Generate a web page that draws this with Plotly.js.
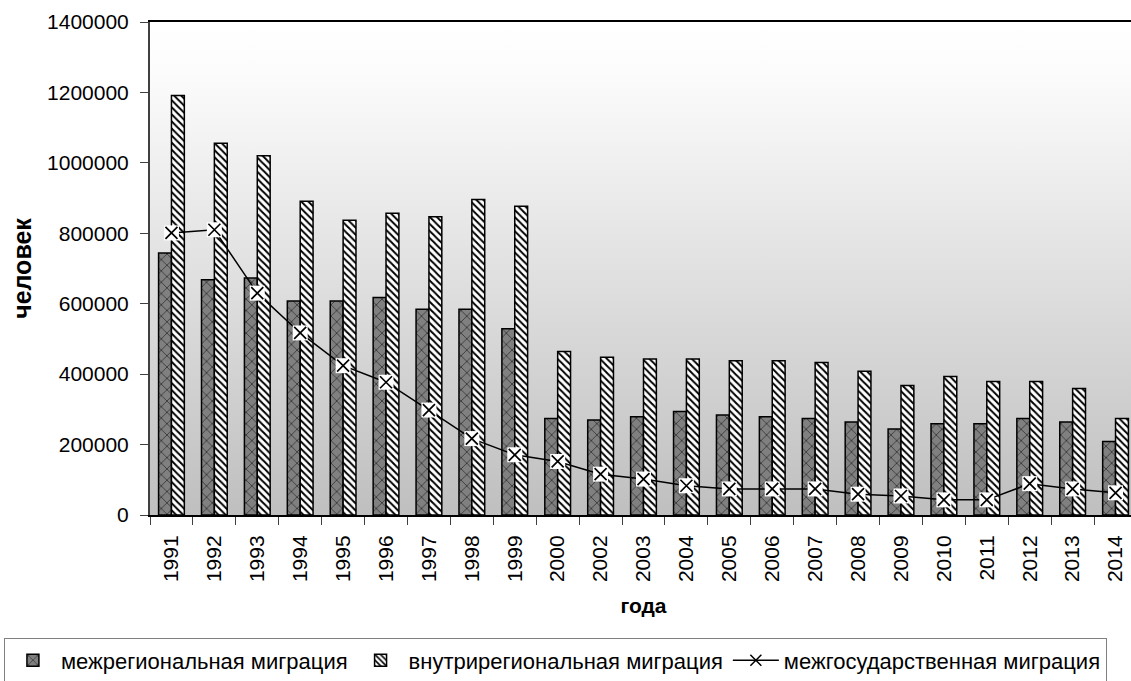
<!DOCTYPE html>
<html>
<head>
<meta charset="utf-8">
<script src="https://cdn.plot.ly/plotly-3.0.1.min.js"></script>
<style>
html, body { margin: 0; padding: 0; overflow: hidden; background: #ffffff; }
#chart { width: 1140px; height: 700px; }
</style>
</head>
<body>
<div id="chart"></div>
<script>
const years = ["1991","1992","1993","1994","1995","1996","1997","1998","1999","2000","2002","2003","2004","2005","2006","2007","2008","2009","2010","2011","2012","2013","2014"];
const interregional = [744000,668000,673000,608000,608000,618000,584000,584000,529000,274000,270000,279000,294000,284000,279000,274000,264000,244000,259000,259000,274000,264000,209000];
const intraregional = [1191000,1056000,1020000,891000,837000,857000,847000,896000,877000,464000,448000,443000,443000,438000,438000,433000,408000,368000,393000,379000,379000,359000,274000];
const interstate = [801000,810000,630000,517000,424000,377000,298000,217000,171000,152000,116000,102000,83000,74000,74000,74000,59000,54000,43000,43000,89000,74000,63000];

const seriesNames = ["межрегиональная миграция", "внутрирегиональная миграция", "межгосударственная миграция"];
const xTitle = "года";
const yTitle = "человек";

const gradSvg = '<svg xmlns="http://www.w3.org/2000/svg" width="100" height="100" preserveAspectRatio="none"><defs><linearGradient id="g" x1="0" y1="0" x2="0" y2="1"><stop offset="0" stop-color="#ffffff"/><stop offset="0.1" stop-color="#fcfcfc"/><stop offset="1" stop-color="#bfbfbf"/></linearGradient></defs><rect width="100" height="100" fill="url(#g)"/></svg>';
const gradUri = 'data:image/svg+xml;base64,' + btoa(gradSvg);

const font = 'Arial, "Liberation Sans", sans-serif';

const traces = [
  {
    type: 'bar', x: years, y: interregional, name: seriesNames[0],
    marker: {
      color: '#808080',
      line: {color: '#000000', width: 1.5},
      pattern: {shape: 'x', fgcolor: '#000000', bgcolor: '#808080', size: 8, solidity: 0.12}
    }
  },
  {
    type: 'bar', x: years, y: intraregional, name: seriesNames[1],
    marker: {
      color: '#ffffff',
      line: {color: '#000000', width: 1.5},
      pattern: {shape: '\\', fgcolor: '#000000', bgcolor: '#ffffff', size: 5, solidity: 0.4}
    }
  },
  {
    type: 'scatter', mode: 'lines+markers', x: years, y: interstate, name: seriesNames[2],
    line: {color: '#000000', width: 1.5},
    marker: {symbol: 'x-thin-open', size: 11, color: '#000000', line: {color: '#000000', width: 1.5}}
  },
  {
    type: 'scatter', mode: 'markers', x: years, y: interstate, showlegend: false, hoverinfo: 'skip',
    marker: {symbol: 'square', size: 15, color: '#ffffff', line: {width: 0}}
  },
  {
    type: 'scatter', mode: 'markers', x: years, y: interstate, showlegend: false, hoverinfo: 'skip',
    marker: {symbol: 'x-thin-open', size: 12, color: '#000000', line: {color: '#000000', width: 1.7}}
  }
];

const layout = {
  width: 1140, height: 700,
  margin: {l: 150, r: 3, t: 22, b: 184.5},
  paper_bgcolor: '#ffffff',
  plot_bgcolor: 'rgba(0,0,0,0)',
  font: {family: font, color: '#000000', size: 20},
  barmode: 'group',
  bargap: 0.4,
  bargroupgap: 0,
  images: [{
    source: gradUri, xref: 'paper', yref: 'paper', x: 0, y: 1, sizex: 1, sizey: 1,
    sizing: 'stretch', layer: 'below', xanchor: 'left', yanchor: 'top'
  }],
  xaxis: {
    type: 'category',
    range: [-0.5, years.length - 0.5],
    autorange: false,
    showline: true, linecolor: '#000000', linewidth: 2, mirror: true,
    ticks: 'outside', ticklen: 8, tickcolor: '#404040', tickwidth: 1,
    tickson: 'boundaries',
    tickangle: -90,
    tickfont: {family: font, size: 21, color: '#000000'},
    ticklabelstandoff: 10,
    showgrid: false, zeroline: false,
    title: {text: xTitle, font: {family: font, size: 21, color: '#000000', weight: 'bold'}, standoff: 17}
  },
  yaxis: {
    range: [0, 1400000],
    autorange: false,
    dtick: 200000,
    tickformat: 'd',
    showline: true, linecolor: '#404040', linewidth: 2,
    ticks: 'outside', ticklen: 8, tickcolor: '#404040', tickwidth: 1,
    tickfont: {family: font, size: 21, color: '#000000'},
    ticklabelstandoff: 7,
    showgrid: false, zeroline: false,
    title: {text: yTitle, font: {family: font, size: 25, color: '#000000', weight: 'bold'}, standoff: 8}
  },
  legend: {
    orientation: 'h',
    x: -0.148, xanchor: 'left',
    y: -0.2503, yanchor: 'top',
    bgcolor: '#ffffff',
    bordercolor: '#808080', borderwidth: 1,
    font: {family: font, size: 22, color: '#000000'},
    itemwidth: 46,
    traceorder: 'normal'
  },
  showlegend: true
};

Plotly.newPlot('chart', traces, layout, {displayModeBar: false, staticPlot: true});
</script>
</body>
</html>
